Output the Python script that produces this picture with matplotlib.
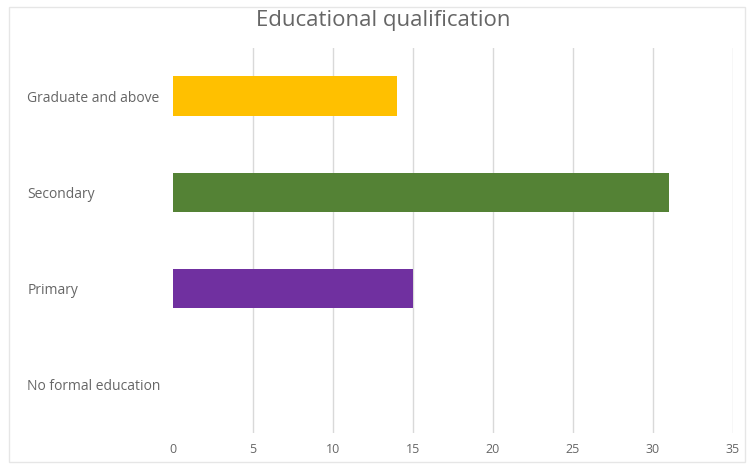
import matplotlib.pyplot as plt
from matplotlib.patches import Rectangle

categories = ['No formal education', 'Primary', 'Secondary', 'Graduate and above']
counts = [0, 15, 31, 14]
colors = ['#4472c4', '#7030a0', '#548235', '#ffc000']
xticks = [0, 5, 10, 15, 20, 25, 30, 35]

plt.rcParams['font.family'] = ['Open Sans', 'DejaVu Sans']

fig = plt.figure(figsize=(7.47, 4.68), dpi=100)
ax = fig.add_axes([0.2316, 0.0748, 0.7497, 0.8226])

ypos = list(range(len(categories)))
ax.barh(ypos, counts, height=0.41, color=colors, zorder=3)

ax.set_xlim(0, 35)
ax.set_ylim(-0.5, len(categories) - 0.5)
ax.set_xticks(xticks)
ax.set_xticklabels([str(t) for t in xticks])
ax.set_yticks(ypos)
ax.set_yticklabels(categories, ha='left')
# left-aligned category labels near the figure edge
ax.tick_params(axis='y', length=0, pad=105, labelsize=10, labelcolor='#666666')
ax.tick_params(axis='x', length=0, pad=7, labelsize=9, labelcolor='#666666')

# vertical gridlines only, none at zero
for t in xticks[1:]:
    ax.axvline(t, color='#d9d9d9', lw=1, zorder=1)

for s in ax.spines.values():
    s.set_visible(False)

fig.text(0.513, 0.956, 'Educational qualification', ha='center', va='center',
         fontsize=16, color='#666666')

# light chart border
fig.patches.append(Rectangle((0.012, 0.012), 0.985, 0.973, transform=fig.transFigure,
                             fill=False, edgecolor='#e6e6e6', lw=1))

fig.savefig('out.png', dpi=100, facecolor='white')
